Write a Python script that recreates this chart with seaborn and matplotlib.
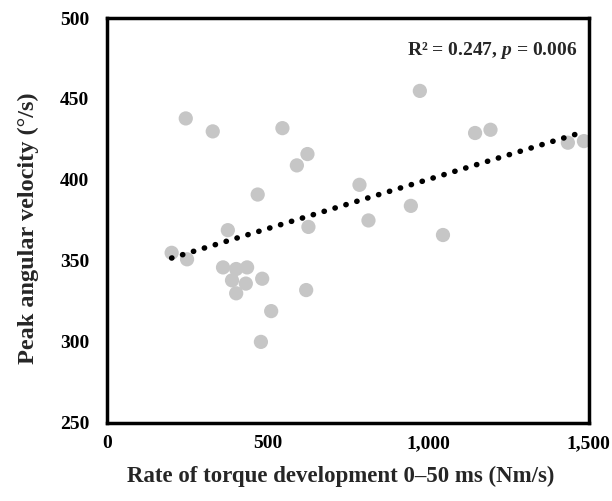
import numpy as np
import pandas as pd
import matplotlib
matplotlib.use('Agg')
import matplotlib.pyplot as plt
import seaborn as sns

# values
rtd_0_50 = [201, 245, 249, 329, 361, 376, 389, 402, 402, 436, 432, 469, 483, 479,
            511, 546, 591, 624, 627, 620, 786, 814, 946, 974, 1046, 1146, 1194, 1435, 1485]
peak_vel = [355, 438, 351, 430, 346, 369, 338, 345, 330, 346, 336, 391, 339, 300,
            319, 432, 409, 416, 371, 332, 397, 375, 384, 455, 366, 429, 431, 423, 424]
x_ticks = [0, 500, 1000, 1500]
x_tick_labels = ['0', '500', '1,000', '1,500']
y_ticks = [250, 300, 350, 400, 450, 500]

df = pd.DataFrame({'rtd': rtd_0_50, 'vel': peak_vel})

sns.set_style('white')
plt.rcParams['font.family'] = ['Liberation Serif', 'DejaVu Serif']
plt.rcParams['font.weight'] = 'bold'
plt.rcParams['mathtext.fontset'] = 'custom'
plt.rcParams['mathtext.rm'] = 'Liberation Serif:bold'
plt.rcParams['mathtext.bf'] = 'Liberation Serif:bold'
plt.rcParams['mathtext.it'] = 'Liberation Serif:bold:italic'
plt.rcParams['mathtext.bfit'] = 'Liberation Serif:bold:italic'

fig = plt.figure(figsize=(6.12, 5.01), dpi=100)
ax = fig.add_axes([0.175, 0.156, 0.787, 0.808])

sns.scatterplot(data=df, x='rtd', y='vel', ax=ax, color='#c6c6c6', s=105,
                edgecolor='none', zorder=2)
sns.regplot(data=df, x='rtd', y='vel', ax=ax, scatter=False, ci=None,
            line_kws={'color': 'black', 'linestyle': (0, (0.05, 2.0)),
                      'linewidth': 4, 'dash_capstyle': 'round', 'zorder': 3})

ax.set_xlim(0, 1500)
ax.set_ylim(250, 500)
ax.set_xticks(x_ticks)
ax.set_xticklabels(x_tick_labels)
ax.set_yticks(y_ticks)
ax.tick_params(axis='both', direction='out', length=3, width=2, labelsize=14,
               colors='black')
ax.tick_params(axis='y', pad=10)
ax.tick_params(axis='x', pad=6)
for lab in ax.get_xticklabels() + ax.get_yticklabels():
    lab.set_fontweight('bold')

for sp in ax.spines.values():
    sp.set_visible(True)
    sp.set_linewidth(2.5)
    sp.set_color('black')

ax.set_xlabel('Rate of torque development 0\u201350 ms (Nm/s)', fontsize=16.5,
              fontweight='bold', labelpad=10)
ax.set_ylabel('Peak angular velocity (\u00b0/s)', fontsize=17.5,
              fontweight='bold', labelpad=15)
ax.xaxis.label.set_x(0.485)
ax.yaxis.label.set_y(0.48)

ax.text(0.977, 0.945, 'R\u00b2 = 0.247, $\\mathit{p}$ = 0.006',
        transform=ax.transAxes, ha='right', va='top', fontsize=14,
        fontweight='bold')

fig.savefig('out.png', dpi=100)
